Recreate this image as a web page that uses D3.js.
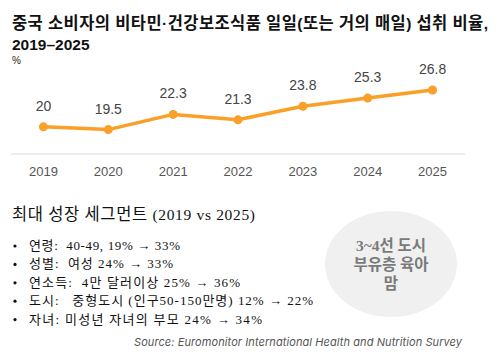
<!DOCTYPE html>
<html>
<head>
<meta charset="utf-8">
<script src="https://cdn.jsdelivr.net/npm/d3@7"></script>
<style>
  body { margin: 0; background: #fff; }
  svg { display: block; }
  text { white-space: pre; }
</style>
</head>
<body>
<svg id="chart" width="502" height="363"></svg>
<script>
var years = ['2019', '2020', '2021', '2022', '2023', '2024', '2025'];
var rates = [20, 19.5, 22.3, 21.3, 23.8, 25.3, 26.8];

var titleLines = ['중국 소비자의 비타민·건강보조식품 일일(또는 거의 매일) 섭취 비율,', '2019–2025'];
var segHeading = '최대 성장 세그먼트 (2019 vs 2025)';
var segments = [
  '연령:  40-49, 19% → 33%',
  '성별:  여성 24% → 33%',
  '연소득:  4만 달러이상 25% → 36%',
  '도시:   중형도시 (인구50-150만명) 12% → 22%',
  '자녀: 미성년 자녀의 부모 24% → 34%'
];
var bubbleLines = ['3~4선 도시', '부유층 육아', '맘'];
var source = 'Source: Euromonitor International Health and Nutrition Survey';

// widths the Korean text takes in the original (its font is wider than ours)
var titleWidths = [476, null];
var segWidths = [151, 144, 211, 284, 233];

var sans = 'Arial, "Liberation Sans", "Noto Sans CJK KR", sans-serif';
var serif = '"Times New Roman", "Liberation Serif", "Noto Sans CJK KR", serif';
var orange = '#fa9f27';

// split a string into hangul / other runs so hangul can get its own size
function runs (str) {
  return str.match(/[\uac00-\ud7a3]+|[^\uac00-\ud7a3]+/g);
}

var svg = d3.select('#chart');

// title
svg.append('g').selectAll('text')
  .data(titleLines)
  .enter().append('text')
    .attr('x', 12)
    .attr('y', (d, i) => 29 + i * 21)
    .attr('font-family', sans)
    .attr('font-size', 15.5)
    .attr('font-weight', 'bold')
    .attr('fill', '#111')
    .attr('textLength', (d, i) => titleWidths[i])
    .attr('lengthAdjust', 'spacing')
  .selectAll('tspan')
  .data(d => runs(d))
  .enter().append('tspan')
    .attr('font-size', d => /[\uac00-\ud7a3]/.test(d) ? 16.5 : null)
    .text(d => d);

svg.append('text')
  .attr('x', 12).attr('y', 64)
  .attr('font-family', sans)
  .attr('font-size', 10)
  .attr('fill', '#222')
  .text('%');

// chart
var x = d3.scaleBand()
  .domain(years)
  .range([11, 465]);

var y = d3.scaleLinear()
  .domain([15, 30])
  .range([154, 72.6]);

var pts = years.map((d, i) => ({ year: d, value: rates[i] }));

svg.append('line')
  .attr('x1', 11).attr('x2', 465)
  .attr('y1', y(15)).attr('y2', y(15))
  .attr('stroke', '#d9d9d9')
  .attr('stroke-width', 1);

var xAxis = svg.append('g')
  .attr('transform', 'translate(0,' + y(15) + ')')
  .call(d3.axisBottom(x).tickSize(0).tickPadding(13));
xAxis.select('.domain').remove();
xAxis.selectAll('text')
  .attr('font-family', sans)
  .attr('font-size', 13)
  .attr('fill', '#555');

var line = d3.line()
  .x(d => x(d.year) + x.bandwidth() / 2)
  .y(d => y(d.value));

svg.append('path')
  .datum(pts)
  .attr('d', line)
  .attr('fill', 'none')
  .attr('stroke', orange)
  .attr('stroke-width', 3.5)
  .attr('stroke-linejoin', 'round');

svg.append('g').selectAll('circle')
  .data(pts)
  .enter().append('circle')
    .attr('cx', d => x(d.year) + x.bandwidth() / 2)
    .attr('cy', d => y(d.value))
    .attr('r', 4.5)
    .attr('fill', orange);

svg.append('g').selectAll('text')
  .data(pts)
  .enter().append('text')
    .attr('x', d => x(d.year) + x.bandwidth() / 2)
    .attr('y', d => y(d.value) - 16)
    .attr('text-anchor', 'middle')
    .attr('font-family', sans)
    .attr('font-size', 14)
    .attr('fill', '#444')
    .text(d => d.value);

// growth segments
svg.append('text')
  .attr('x', 12).attr('y', 220)
  .attr('font-family', serif)
  .attr('font-size', 15.5)
  .attr('fill', '#111')
  .attr('textLength', 243)
  .attr('lengthAdjust', 'spacing')
  .selectAll('tspan')
  .data(runs(segHeading))
  .enter().append('tspan')
    .attr('font-size', d => /[\uac00-\ud7a3]/.test(d) ? 16.5 : null)
    .text(d => d);

var seg = svg.append('g').selectAll('g')
  .data(segments)
  .enter().append('g')
    .attr('transform', (d, i) => 'translate(0,' + (250 + i * 18.4) + ')');
seg.append('circle')
  .attr('cx', 15).attr('cy', -4)
  .attr('r', 1.6)
  .attr('fill', '#111');
seg.append('text')
  .attr('x', 29)
  .attr('font-family', serif)
  .attr('font-size', 13)
  .attr('fill', '#111')
  .attr('textLength', (d, i) => segWidths[i])
  .attr('lengthAdjust', 'spacing')
  .text(d => d);

// bubble
svg.append('ellipse')
  .attr('cx', 391).attr('cy', 264)
  .attr('rx', 66).attr('ry', 53)
  .attr('fill', '#eff0ef');

svg.append('g').selectAll('text')
  .data(bubbleLines)
  .enter().append('text')
    .attr('x', 391)
    .attr('y', (d, i) => 251 + i * 19)
    .attr('text-anchor', 'middle')
    .attr('font-family', serif)
    .attr('font-size', 15.5)
    .attr('font-weight', 'bold')
    .attr('fill', '#7a7a7a')
    .text(d => d);

svg.append('text')
  .attr('x', 462).attr('y', 346)
  .attr('text-anchor', 'end')
  .attr('font-family', 'Inter, "Open Sans", sans-serif')
  .attr('font-style', 'italic')
  .attr('font-size', 11)
  .attr('fill', '#555')
  .attr('textLength', 328)
  .attr('lengthAdjust', 'spacing')
  .text(source);
</script>
</body>
</html>
